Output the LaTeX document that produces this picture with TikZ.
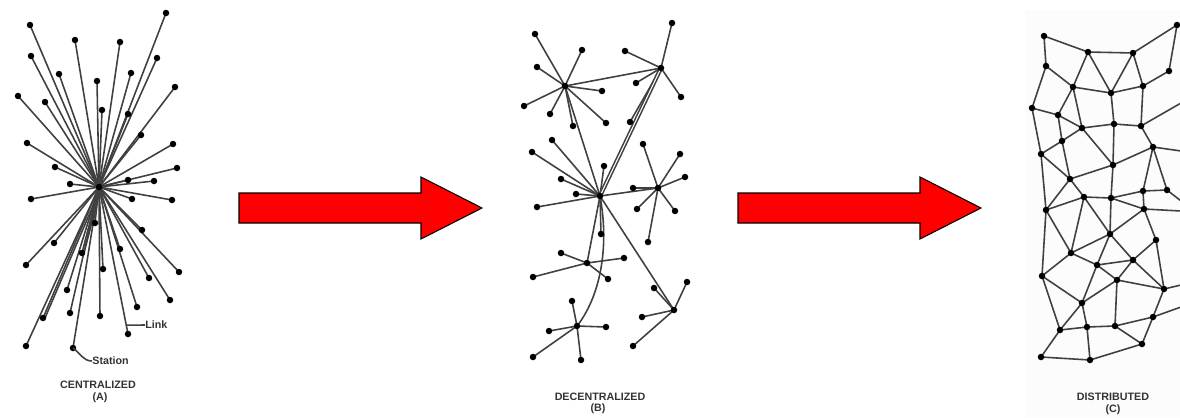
\documentclass[tikz,border=0pt]{standalone}
\usepackage{fontspec}
\setmainfont{Liberation Sans}
\usetikzlibrary{calc,backgrounds}

\tikzset{
  dot/.style={circle, fill=black, inner sep=0pt, minimum size=0.13cm},
  link/.style={draw=black!75, line width=0.9pt},
  caption/.style={font=\fontsize{6.1pt}{7pt}\selectfont\bfseries, text=black!80, inner sep=0pt},
  bigarrow/.style={fill=red, draw=black, line width=0.6pt, line join=miter},
}

\begin{document}
\begin{tikzpicture}[x=0.02cm, y=-0.02cm]
\useasboundingbox (0,0) rectangle (1180,417);

% ---------------- centralized network ----------------
\node[dot] (ch) at (99,187) {};
\foreach \n/\x/\y in {
  c1/166/13, c2/30/25, c3/75/40, c4/120/42, c5/157/58, c6/31/56,
  c7/59/74, c8/131/73, c9/97/81, c10/175/87, c11/18/96, c12/45/102,
  c13/102/110, c14/128/114, c15/141/135, c16/27/143, c17/173/144,
  c18/55/167, c19/177/168, c20/128/180, c21/154/181, c22/70/184,
  c23/31/199, c24/132/199, c25/172/200, c26/95/223, c27/142/230,
  c28/54/243, c29/82/253, c30/120/249, c31/26/265, c32/103/269,
  c33/179/272, c34/149/278, c35/67/290, c36/170/300, c37/137/307,
  c38/70/313, c39/100/316, c40/43/318, c41/128/334, c42/26/346,
  c43/73/348}
  \node[dot] (\n) at (\x,\y) {};
\begin{scope}[on background layer]
  \foreach \i in {1,...,43}
    \draw[link] (ch.center) -- (c\i.center);
  % a few doubled links
  \draw[link] ([xshift=0.04cm]ch.center) -- ([xshift=0.04cm]c40.center);
  \draw[link] ([xshift=0.04cm]ch.center) -- ([xshift=0.04cm]c29.center);
\end{scope}

% labels of the centralized net
\coordinate (lk) at ($(ch)!0.94!(c41)$);
\node[caption, anchor=west] (lnk) at (145,325) {Link};
\draw[link] (lk) -- (lnk.west);
\node[caption, anchor=west] (stn) at (92,361) {Station};
\draw[link] (c43.center) to[out=-35, in=180] (stn.west);
\node[caption] (capA) at (98,385) {CENTRALIZED};
\node[caption] (capAl) at (100,398) {(A)};

% ---------------- arrows between the panels ----------------
\filldraw[bigarrow] (239,193) -- (421,193) -- (421,177) -- (482,208)
  -- (421,239) -- (421,223) -- (239,223) -- cycle;
\filldraw[bigarrow] (738,193) -- (920,193) -- (920,177) -- (981,208)
  -- (920,239) -- (920,223) -- (738,223) -- cycle;

% ---------------- decentralized network ----------------
\foreach \n/\x/\y in {
  h1/565/86, h2/661/68, h3/658/188, h4/600/196, h5/587/263,
  h6/674/310, h7/577/326}
  \node[dot] (\n) at (\x,\y) {};
\foreach \n/\x/\y/\h in {
  a1/535/34/h1, a2/582/50/h1, a3/537/67/h1, a4/602/91/h1, a5/524/106/h1,
  a6/550/114/h1, a7/573/126/h1, a8/606/123/h1,
  b1/672/23/h2, b2/625/51/h2, b3/636/83/h2, b4/681/97/h2, b5/630/122/h2,
  f1/552/140/h4, f2/532/152/h4, f3/604/166/h4, f4/561/179/h4,
  f5/576/194/h4, f6/537/207/h4, f7/601/234/h4,
  g1/643/144/h3, g2/680/154/h3, g3/685/177/h3, g4/633/188/h3,
  g5/637/209/h3, g6/675/211/h3, g7/648/242/h3,
  k1/561/253/h5, k2/624/258/h5, k3/533/277/h5, k4/608/279/h5,
  m1/687/282/h6, m2/654/288/h6, m3/642/317/h6, m4/633/346/h6,
  p1/572/301/h7, p2/549/331/h7, p3/606/327/h7, p4/533/357/h7, p5/581/360/h7}
{
  \node[dot] (\n) at (\x,\y) {};
  \begin{scope}[on background layer]
    \draw[link] (\h.center) -- (\n.center);
  \end{scope}
}
\begin{scope}[on background layer]
  \draw[link] (h1.center) -- (h2.center);
  \draw[link] (h1.center) -- (h4.center);
  \draw[link, double=white, double distance=0.6pt] (h2.center) -- (h4.center);
  \draw[link] (h3.center) -- (h4.center);
  \draw[link] (h4.center) -- (h5.center);
  \draw[link] (h4.center) -- (h6.center);
  \draw[link] (h4.center) .. controls (610,250) and (599,298) .. (h7.center);
\end{scope}
\node[caption] (capB) at (600,397) {DECENTRALIZED};
\node[caption] (capBl) at (598,409) {(B)};

% ---------------- distributed network ----------------
\begin{scope}[on background layer]
  \fill[black!1] (1025,10) rectangle (1180,417);
\end{scope}
\foreach \n/\x/\y in {
  d1/1044/36, d2/1088/52, d3/1133/53, d4/1177/25, d5/1046/66,
  d6/1169/71, d7/1073/87, d8/1111/93, d9/1143/86, d10/1032/108,
  d11/1058/115, d12/1082/128, d13/1114/124, d14/1141/126, d15/1062/141,
  d16/1153/147, d17/1041/154, d18/1113/165, d19/1070/179, d20/1143/191,
  d21/1167/190, d22/1084/197, d23/1111/198, d24/1046/210, d25/1144/209,
  d26/1110/234, d27/1156/240, d28/1071/253, d29/1133/260, d30/1097/265,
  d31/1042/276, d32/1117/280, d33/1164/289, d34/1082/303, d35/1153/317,
  d36/1060/330, d37/1087/327, d38/1115/326, d39/1142/344, d40/1041/357,
  d41/1090/360}
  \node[dot] (\n) at (\x,\y) {};
% links that run on past the right edge
\coordinate (e1) at (1181,103);
\coordinate (e2) at (1181,151);
\coordinate (e3) at (1181,201);
\coordinate (e4) at (1181,211);
\coordinate (e5) at (1181,285);
\coordinate (e6) at (1181,307);
\begin{scope}[on background layer]
  \foreach \a/\b in {
    d1/d2, d2/d3, d3/d4, d1/d5, d2/d7, d2/d8, d3/d8, d3/d9, d4/d6, d6/d9,
    d5/d7, d5/d10, d7/d8, d8/d9, d7/d11, d7/d12, d8/d13, d9/d14, d10/d11,
    d11/d15, d11/d12, d12/d13, d13/d14, d10/d17, d12/d15, d12/d18,
    d13/d18, d14/d16, d16/d18, d15/d17, d15/d19, d17/d19, d17/d24,
    d18/d19, d18/d23, d16/d20, d16/d21, d19/d24, d19/d22, d20/d21,
    d22/d23, d23/d20, d20/d25, d23/d25, d22/d24, d22/d26, d23/d26,
    d25/d26, d25/d27, d24/d28, d24/d31, d22/d28, d26/d28, d26/d30,
    d26/d29, d27/d33, d29/d27, d29/d30, d28/d31, d28/d30, d30/d32,
    d29/d32, d29/d33, d32/d33, d30/d34, d31/d34, d32/d34, d31/d36,
    d34/d36, d34/d37, d32/d38, d33/d35, d38/d35, d35/d39, d38/d39,
    d36/d37, d37/d38, d36/d40, d37/d41, d40/d41, d41/d39,
    d14/e1, d16/e2, d21/e3, d25/e4, d33/e5, d35/e6}
    \draw[link] (\a.center) -- (\b.center);
\end{scope}
\node[caption] (capC) at (1113,397) {DISTRIBUTED};
\node[caption] (capCl) at (1113,410) {(C)};
\end{tikzpicture}
\end{document}
